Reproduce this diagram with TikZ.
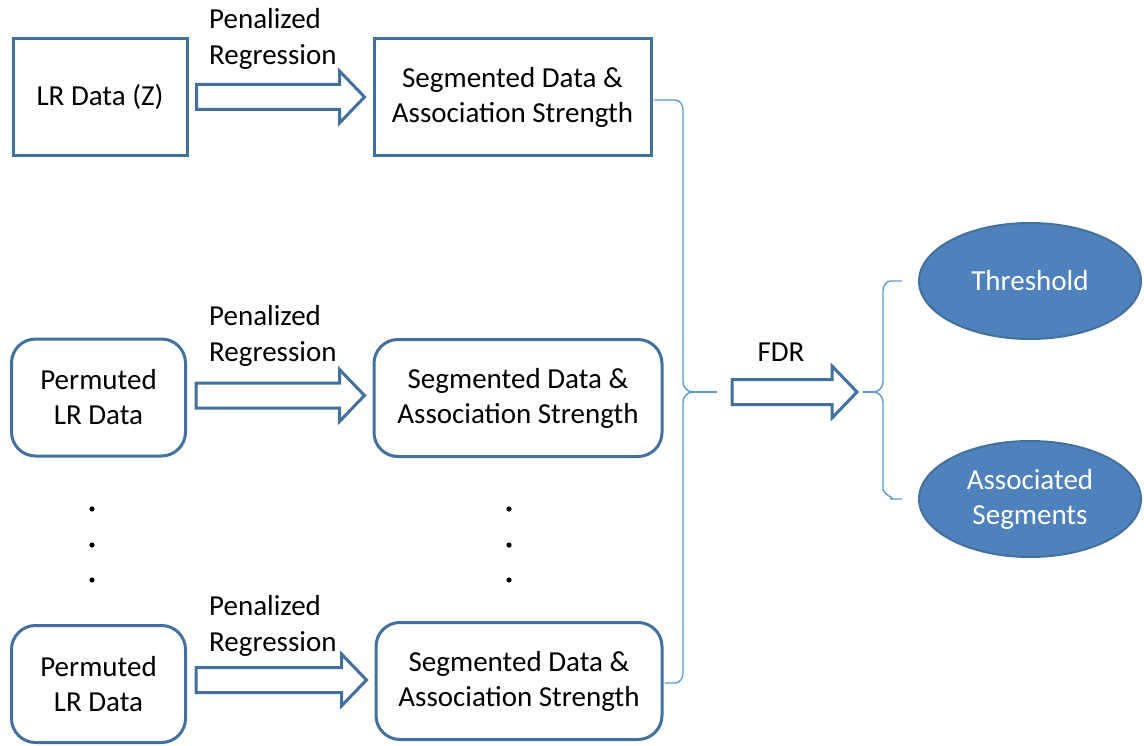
\documentclass[tikz,border=0pt]{standalone}
\usepackage{fontspec}
\setmainfont{Carlito}
\usetikzlibrary{calc,shapes.geometric}
\definecolor{boxblue}{HTML}{41719C}
\definecolor{fillblue}{HTML}{4F81BD}
\definecolor{braceblue}{HTML}{5B9BD5}

% hollow block arrow from tail coordinate #1 to the x of coordinate #2
\newcommand{\blkarrow}[2]{%
  \draw[blockarrow] let \p1=(#1), \p2=(#2) in
    (\x1,\y1+12.5pt) -- (\x2-25pt,\y1+12.5pt) -- (\x2-25pt,\y1+26pt) --
    (\x2,\y1) -- (\x2-25pt,\y1-26pt) -- (\x2-25pt,\y1-12.5pt) --
    (\x1,\y1-12.5pt) -- cycle;}

\begin{document}
\begin{tikzpicture}[x=1pt,y=-1pt,
  every node/.style={font=\fontsize{29}{35}\selectfont, text=black},
  sqbox/.style={draw=boxblue, line width=3pt, minimum width=174pt,
    minimum height=117pt, align=center, inner sep=0pt},
  rbox/.style={sqbox, rounded corners=24pt},
  blockarrow/.style={draw=boxblue, line width=3pt, fill=white, line join=miter},
  bracket/.style={draw=braceblue, line width=1.4pt},
  oval/.style={ellipse, draw=boxblue, line width=2pt, fill=fillblue,
    text=white, minimum width=222pt, minimum height=116pt, align=center,
    inner sep=0pt},
  steplabel/.style={align=left, anchor=west, inner sep=0pt,
    font=\fontsize{29}{36}\selectfont},
  dot/.style={fill=black}]
\useasboundingbox (0,0) rectangle (1144,746);

% left column: input data
\node[sqbox] (lr) at (100,97) {LR Data (Z)};
\node[rbox] (p2) at (98.5,397.5) {Permuted\\LR Data};
\node[rbox] (p3) at (98.5,684) {Permuted\\LR Data};

% middle column: regression results
\node[sqbox, minimum width=277pt] (s1) at (512.5,97)
  {Segmented Data \&\\Association Strength};
\node[rbox, minimum width=288pt] (s2) at (518,398)
  {Segmented Data \&\\Association Strength};
\node[rbox, minimum width=286pt] (s3) at (519,681)
  {Segmented Data \&\\Association Strength};

% step labels
\node[steplabel] (l1) at (209,39) {Penalized\\Regression};
\node[steplabel] (l2) at (209,336) {Penalized\\Regression};
\node[steplabel] (l3) at (209,626) {Penalized\\Regression};
\node (fdr) at (781,352) {FDR};

% right column: outputs
\node[oval] (th) at (1030,281) {Threshold};
\node[oval] (as) at (1030,499) {Associated\\Segments};

% vertical ellipsis
\foreach \yy in {509,545,580} {
  \fill[dot] (92,\yy) circle (2.6);
  \fill[dot] (509,\yy) circle (2.6);
}

% regression arrows
\coordinate (t1) at ($(lr.east)+(8,0)$);
\coordinate (h1) at ($(s1.west)+(-8,0)$);
\blkarrow{t1}{h1}
\coordinate (t2) at ($(p2.east)+(9,-2)$);
\coordinate (h2) at ($(s2.west)+(-8,0)$);
\blkarrow{t2}{h2}
\coordinate (t3) at ($(s3.west -| p3.east)+(9,-1)$);
\coordinate (h3) at ($(s3.west)+(-8,0)$);
\blkarrow{t3}{h3}

% brace gathering the regression results
\coordinate (b1) at (717,392);
\draw[bracket] ($(s1.east)+(1,3)$) -- (675,100) to[out=0,in=90] (683,110)
  -- (683,382) to[out=-90,in=180] (693,392) to[out=180,in=90] (683,402)
  -- (683,673) to[out=-90,in=0] (675,683) -- ($(s3.east)+(1,2)$);
\draw[bracket] (693,392) -- (b1);

% brace spreading to the outputs
\coordinate (b2) at (863,392);
\draw[bracket] ($(th.west)+(-16,0)$) -- (891,281) to[out=180,in=90] (883,291)
  -- (883,382) to[out=-90,in=0] (873,392) to[out=0,in=90] (883,402)
  -- (883,489) to[out=-90,in=0] (891,499) -- ($(as.west)+(-16,0)$);
\draw[bracket] (873,392) -- (b2);

% FDR arrow
\coordinate (tf) at ($(b1)+(15,0)$);
\coordinate (hf) at ($(b2)+(-6,0)$);
\blkarrow{tf}{hf}
\end{tikzpicture}
\end{document}
